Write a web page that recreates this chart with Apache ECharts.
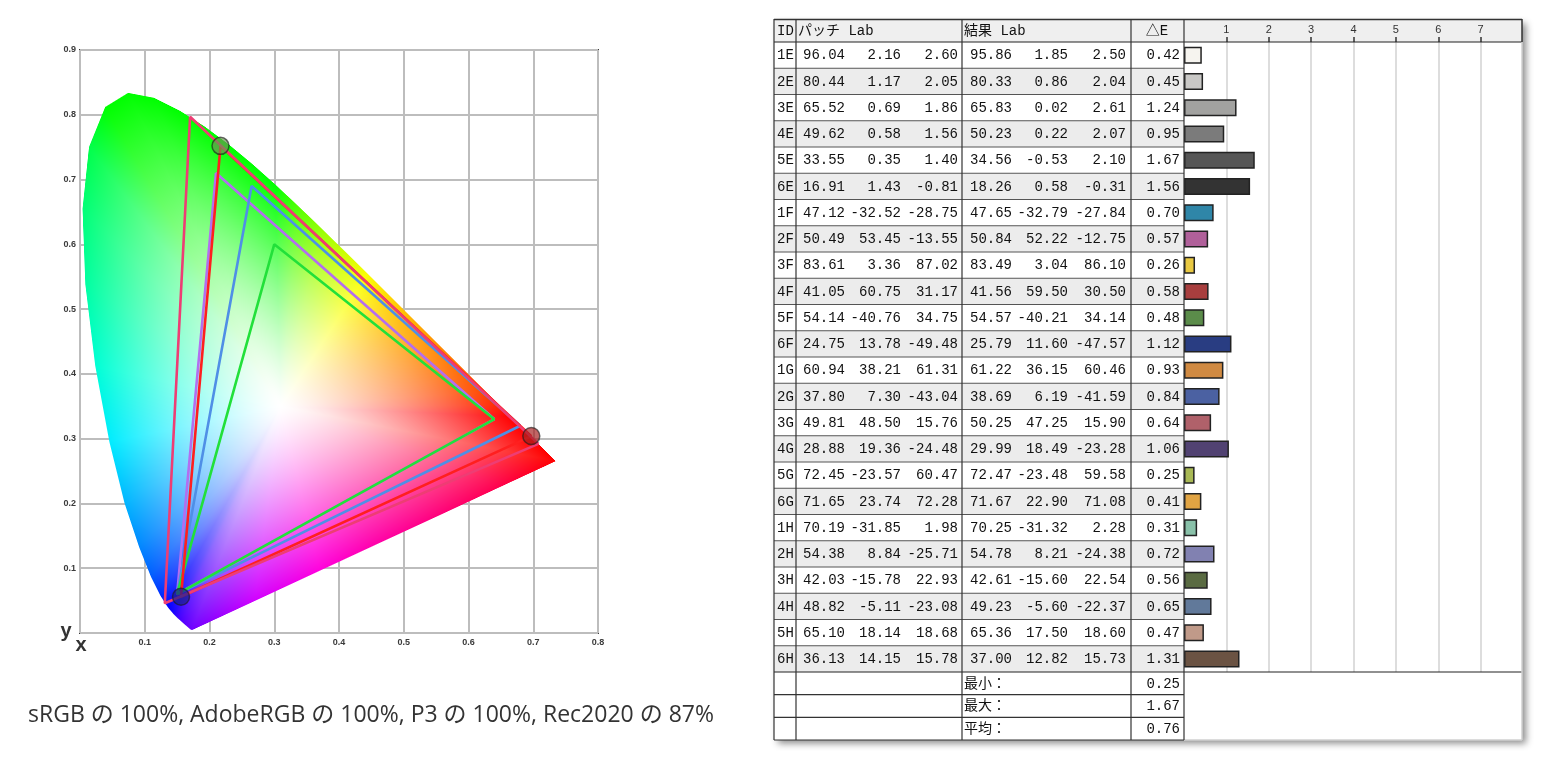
<!DOCTYPE html>
<html><head><meta charset="utf-8">
<script src="https://cdn.jsdelivr.net/npm/echarts@6/dist/echarts.min.js"></script>
<style>html,body{margin:0;padding:0;background:#fff}#c{width:1553px;height:761px}</style>
</head><body><div id="c"></div>
<script>
// ---------- CIE chart data ----------
const cieXTicks = [0.1,0.2,0.3,0.4,0.5,0.6,0.7,0.8];
const cieYTicks = [0.1,0.2,0.3,0.4,0.5,0.6,0.7,0.8,0.9];
// CIE 1931 spectral locus 380..700nm (5nm) followed by points on the line of purples
const locus = [
[0.1741,0.0050],[0.1740,0.0050],[0.1738,0.0049],[0.1736,0.0049],[0.1733,0.0048],[0.1730,0.0048],
[0.1726,0.0048],[0.1721,0.0048],[0.1714,0.0051],[0.1703,0.0058],[0.1689,0.0069],[0.1669,0.0086],
[0.1644,0.0109],[0.1611,0.0138],[0.1566,0.0177],[0.1510,0.0227],[0.1440,0.0297],[0.1355,0.0399],
[0.1241,0.0578],[0.1096,0.0868],[0.0913,0.1327],[0.0687,0.2007],[0.0454,0.2950],[0.0235,0.4127],
[0.0082,0.5384],[0.0039,0.6548],[0.0139,0.7502],[0.0389,0.8120],[0.0743,0.8338],[0.1142,0.8262],
[0.1547,0.8059],[0.1929,0.7816],[0.2296,0.7543],[0.2658,0.7243],[0.3016,0.6923],[0.3373,0.6589],
[0.3731,0.6245],[0.4087,0.5896],[0.4441,0.5547],[0.4788,0.5202],[0.5125,0.4866],[0.5448,0.4544],
[0.5752,0.4242],[0.6029,0.3965],[0.6270,0.3725],[0.6482,0.3514],[0.6658,0.3340],[0.6801,0.3197],
[0.6915,0.3083],[0.7006,0.2993],[0.7079,0.2920],[0.7140,0.2859],[0.7190,0.2809],[0.7230,0.2770],
[0.7260,0.2740],[0.7283,0.2717],[0.7300,0.2700],[0.7311,0.2689],[0.7320,0.2680],[0.7327,0.2673],
[0.7334,0.2666],[0.7340,0.2660],[0.7344,0.2656],[0.7346,0.2654],[0.7347,0.2653],
[0.6500,0.2260],[0.5600,0.1840],[0.4600,0.1378],[0.3700,0.0960],[0.2700,0.0495]
];
const whitePoint = [0.31, 0.35];
const gamutSRGB   = [[0.64,0.33],[0.30,0.60],[0.15,0.06]];
const gamutP3     = [[0.68,0.32],[0.265,0.69],[0.15,0.06]];
const gamutAdobe  = [[0.64,0.33],[0.21,0.71],[0.15,0.06]];
const gamutRec2020= [[0.708,0.292],[0.170,0.797],[0.131,0.046]];
const gamutPanel  = [[0.697,0.304],[0.217,0.752],[0.156,0.056]];
const captionText = 'sRGB の 100%, AdobeRGB の 100%, P3 の 100%, Rec2020 の 87%';

// ---------- Table data ----------
const patchIds = ['1E','2E','3E','4E','5E','6E','1F','2F','3F','4F','5F','6F','1G','2G','3G','4G','5G','6G','1H','2H','3H','4H','5H','6H'];
const patchL = [96.04,80.44,65.52,49.62,33.55,16.91,47.12,50.49,83.61,41.05,54.14,24.75,60.94,37.80,49.81,28.88,72.45,71.65,70.19,54.38,42.03,48.82,65.10,36.13];
const patchA = [2.16,1.17,0.69,0.58,0.35,1.43,-32.52,53.45,3.36,60.75,-40.76,13.78,38.21,7.30,48.50,19.36,-23.57,23.74,-31.85,8.84,-15.78,-5.11,18.14,14.15];
const patchB = [2.60,2.05,1.86,1.56,1.40,-0.81,-28.75,-13.55,87.02,31.17,34.75,-49.48,61.31,-43.04,15.76,-24.48,60.47,72.28,1.98,-25.71,22.93,-23.08,18.68,15.78];
const resultL = [95.86,80.33,65.83,50.23,34.56,18.26,47.65,50.84,83.49,41.56,54.57,25.79,61.22,38.69,50.25,29.99,72.47,71.67,70.25,54.78,42.61,49.23,65.36,37.00];
const resultA = [1.85,0.86,0.02,0.22,-0.53,0.58,-32.79,52.22,3.04,59.50,-40.21,11.60,36.15,6.19,47.25,18.49,-23.48,22.90,-31.32,8.21,-15.60,-5.60,17.50,12.82];
const resultB = [2.50,2.04,2.61,2.07,2.10,-0.31,-27.84,-12.75,86.10,30.50,34.14,-47.57,60.46,-41.59,15.90,-23.28,59.58,71.08,2.28,-24.38,22.54,-22.37,18.60,15.73];
const deltaE = [0.42,0.45,1.24,0.95,1.67,1.56,0.70,0.57,0.26,0.58,0.48,1.12,0.93,0.84,0.64,1.06,0.25,0.41,0.31,0.72,0.56,0.65,0.47,1.31];
const patchColors = ['#f6f4ef','#c9c8c6','#a2a2a0','#7b7b7b','#565656','#333333','#2f86a8','#b0609a','#e9c942','#a83e3e','#5b8c4a','#293d82','#d08a42','#4b61a2','#b0616a','#514272','#a9b955','#e1a443','#89c1a9','#8181b1','#5a6b42','#61799a','#c09a89','#6b5343'];
const summaryLabels = ['最小：','最大：','平均：'];
const summaryValues = [0.25, 1.67, 0.76];
const deltaTicks = [1,2,3,4,5,6,7];
const headerTexts = ['ID','パッチ Lab','結果 Lab','△E'];

// ---------- helpers ----------
function xyToRgbArr(x, y){
  const X = x / y, Y = 1, Z = (1 - x - y) / y;
  let r = 3.2406*X - 1.5372*Y - 0.4986*Z;
  let g = -0.9689*X + 1.8758*Y + 0.0415*Z;
  let b = 0.0557*X - 0.2040*Y + 1.0570*Z;
  r = Math.max(0, r); g = Math.max(0, g); b = Math.max(0, b);
  const m = Math.max(r, g, b);
  const gam = v => { v = v / m; v = v <= 0.0031308 ? 12.92*v : 1.055*Math.pow(v, 1/2.4) - 0.055; return Math.min(1, v) * 255; };
  return [gam(r), gam(g), gam(b)];
}
const closed = t => t.concat([t[0]]);

// Raster of the chromaticity area, built in pixel space from axis coordinates
let cieCache = null;
function buildCieImage(api){
  const p0 = api.coord([0, 0.9]), p1 = api.coord([0.8, 0]);
  const W = Math.round(p1[0] - p0[0]), H = Math.round(p1[1] - p0[1]);
  const key = W + 'x' + H + ':' + p0[0] + ',' + p0[1];
  if (cieCache && cieCache.key === key) return cieCache;
  const cv = document.createElement('canvas'); cv.width = W; cv.height = H;
  const ctx = cv.getContext('2d');
  const img = ctx.createImageData(W, H);
  const pts = locus.map(p => { const c = api.coord(p); return [c[0] - p0[0], c[1] - p0[1]]; });
  const cols = locus.map(p => xyToRgbArr(p[0], p[1]));
  const wc = api.coord(whitePoint); const wx = wc[0] - p0[0], wy = wc[1] - p0[1];
  const n = pts.length;
  const segs = [];
  for (let i = 0; i < n; i++) {
    const a = pts[i], b = pts[(i + 1) % n];
    segs.push({ax: a[0] - wx, ay: a[1] - wy, ex: b[0] - a[0], ey: b[1] - a[1], ca: cols[i], cb: cols[(i + 1) % n]});
  }
  const d = img.data;
  for (let py = 0; py < H; py++) {
    for (let px = 0; px < W; px++) {
      const dx = px + 0.5 - wx, dy = py + 0.5 - wy;
      const len = Math.sqrt(dx*dx + dy*dy);
      const k = (py*W + px)*4;
      if (len < 1e-6) { d[k]=d[k+1]=d[k+2]=255; d[k+3]=255; continue; }
      let hit = null;
      for (let s = 0; s < segs.length; s++) {
        const g = segs[s];
        const den = dx * g.ey - dy * g.ex;
        if (Math.abs(den) < 1e-12) continue;
        const sParam = (g.ax * g.ey - g.ay * g.ex) / den;
        if (sParam <= 0) continue;
        const u = (g.ax * dy - g.ay * dx) / den;
        if (u < -1e-9 || u > 1 + 1e-9) continue;
        hit = {s: sParam, u: u, g: g}; break;
      }
      if (!hit) continue;
      const t = 1 / hit.s;
      const boundLen = len * hit.s;
      let alpha = Math.max(0, Math.min(1, boundLen - len + 0.5));
      if (alpha <= 0) continue;
      const u = Math.max(0, Math.min(1, hit.u));
      const ca = hit.g.ca, cb = hit.g.cb;
      const f = Math.pow(Math.min(1, t), 1.3);
      for (let c = 0; c < 3; c++) {
        const bc = ca[c] + (cb[c] - ca[c]) * u;
        d[k+c] = Math.round(255 - (255 - bc) * f);
      }
      d[k+3] = Math.round(255 * alpha);
    }
  }
  ctx.putImageData(img, 0, 0);
  cieCache = {key: key, canvas: cv, x: p0[0], y: p0[1], w: W, h: H};
  return cieCache;
}

// ---------- Table graphic ----------
const TL = 774, TR = 1522, TT = 19, HB = 42, rowH = 26.25, nRows = patchIds.length;
const RB = HB + rowH * nRows; // 672
const sumH = 22.67, TB = RB + sumH * 3;
const colX = [774, 796, 962, 1131, 1184];
const valRight = [845, 901, 958, 1012, 1068, 1126];
const deRight = 1180;
const font = '14px "Liberation Mono","Noto Sans CJK JP",monospace';
const els = [];
function txt(t, x, y, align, extra){
  els.push(Object.assign({type:'text', z: 20, x: x, y: y,
    style:{text: t, font: font, fill:'#111', align: align, textAlign: align, verticalAlign:'middle', textVerticalAlign:'middle'}}, extra||{}));
}
function ln(x1,y1,x2,y2,c,w){
  els.push({type:'line', z: 15, shape:{x1:x1,y1:y1,x2:x2,y2:y2}, style:{stroke:c, lineWidth:w||1}});
}
els.push({type:'rect', z:-20, shape:{x:TL,y:TT,width:TR-TL,height:TB-TT}, style:{fill:'#fff', shadowBlur:7, shadowColor:'rgba(0,0,0,0.45)', shadowOffsetX:4, shadowOffsetY:4}});
els.push({type:'rect', z:-15, shape:{x:TL,y:TT,width:TR-TL,height:HB-TT}, style:{fill:'#efefef'}});
for (let i = 0; i < nRows; i++) {
  if (i % 2 === 1) els.push({type:'rect', z:-15, shape:{x:TL,y:HB+i*rowH,width:colX[4]-TL,height:rowH}, style:{fill:'#ececec'}});
}
ln(TL, TT+0.5, TR, TT+0.5, '#333', 1.5);
ln(TL, HB, TR, HB, '#222', 1.2);
for (let i = 1; i < nRows; i++) ln(TL, HB+i*rowH, colX[4], HB+i*rowH, '#555', 1);
ln(TL, RB, TR, RB, '#222', 1.2);
for (let k = 1; k <= 3; k++) ln(TL, RB+k*sumH, colX[4], RB+k*sumH, '#333', 1.2);
ln(colX[4], TB, TR, TB, '#d0d0d0', 1.5);
colX.forEach(x => ln(x, TT, x, TB, '#333', 1.2));
ln(TR, TT, TR, HB, '#333', 1.5);
ln(TR, HB, TR, TB, '#d0d0d0', 1.5);
const hy = (TT + HB) / 2 + 0.5;
txt(headerTexts[0], 777, hy, 'left');
txt(headerTexts[1], 798, hy, 'left');
txt(headerTexts[2], 964, hy, 'left');
txt(headerTexts[3], 1157, hy, 'center');
const cols = [patchL, patchA, patchB, resultL, resultA, resultB];
for (let i = 0; i < nRows; i++) {
  const y = HB + (i + 0.5) * rowH + 0.5;
  txt(patchIds[i], 777, y, 'left');
  cols.forEach((arr, c) => txt(arr[i].toFixed(2), valRight[c], y, 'right'));
  txt(deltaE[i].toFixed(2), deRight, y, 'right');
}
for (let k = 0; k < 3; k++) {
  const y = RB + (k + 0.5) * sumH + 0.5;
  txt(summaryLabels[k], 964, y, 'left');
  txt(summaryValues[k].toFixed(2), deRight, y, 'right');
}
els.push({type:'text', z:20, x:66, y:631, style:{text:'y', font:'bold 20px "Liberation Sans",sans-serif', fill:'#333', align:'center', textAlign:'center', verticalAlign:'middle', textVerticalAlign:'middle'}});
els.push({type:'text', z:20, x:81, y:645, style:{text:'x', font:'bold 20px "Liberation Sans",sans-serif', fill:'#333', align:'center', textAlign:'center', verticalAlign:'middle', textVerticalAlign:'middle'}});
els.push({type:'text', z:20, x:28, y:715, style:{text:captionText, font:'23px "Open Sans","Noto Sans CJK JP",sans-serif', fill:'#333', align:'left', textAlign:'left', verticalAlign:'middle', textVerticalAlign:'middle'}});

// ---------- chart ----------
const chart = echarts.init(document.getElementById('c'), null, {renderer:'canvas'});
const lineSeries = (data, color, z) => ({type:'line', xAxisIndex:0, yAxisIndex:0, data: closed(data), symbol:'none', silent:true, z: z,
  lineStyle:{color: color, width: 2.6}});
const markerColors = ['rgba(165,30,30,0.85)','rgba(105,145,80,0.85)','rgba(30,30,140,0.9)'];

chart.setOption({
  animation: false,
  graphic: { elements: els },
  grid: [
    {left:80, top:50, width:518, height:583, show:true, borderColor:'#3a3a3a', borderWidth:2, backgroundColor:'#fff'},
    {left:1184, top:42, width:339, height:630}
  ],
  xAxis: [
    {type:'value', gridIndex:0, min:0, max:0.8, interval:0.1,
      axisLine:{show:false}, axisTick:{show:false},
      axisLabel:{customValues: cieXTicks, formatter: v => v.toFixed(1), fontSize:9, fontWeight:'bold', color:'#3a3a3a', fontFamily:'"Liberation Sans",Arial', margin:5},
      splitLine:{show:true, lineStyle:{color:'#bdbdbd', width:2}}},
    {type:'value', gridIndex:1, min:0, max:8, interval:1, position:'top',
      axisLine:{show:false},
      axisTick:{show:true, customValues: deltaTicks, length:5, lineStyle:{color:'#333', width:1.5}},
      axisLabel:{customValues: deltaTicks, fontSize:11, color:'#333', fontFamily:'"Liberation Sans",Arial', margin:7},
      splitLine:{show:true, lineStyle:{color:'#d2d2d2', width:1.5}}}
  ],
  yAxis: [
    {type:'value', gridIndex:0, min:0, max:0.9, interval:0.1,
      axisLine:{show:false}, axisTick:{show:false},
      axisLabel:{customValues: cieYTicks, formatter: v => v.toFixed(1), fontSize:9, fontWeight:'bold', color:'#3a3a3a', fontFamily:'"Liberation Sans",Arial', margin:4},
      splitLine:{show:true, lineStyle:{color:'#bdbdbd', width:2}}},
    {type:'category', gridIndex:1, data: patchIds, inverse:true, show:false}
  ],
  series: [
    {type:'custom', xAxisIndex:0, yAxisIndex:0, silent:true, z:2, data:[[whitePoint[0], whitePoint[1]]],
      renderItem: function(params, api){
        const r = buildCieImage(api);
        return {type:'image', style:{image: r.canvas, x: r.x, y: r.y, width: r.w, height: r.h}};
      }},
    lineSeries(gamutAdobe, '#b36ef0', 3),
    lineSeries(gamutP3, '#4f8fe6', 4),
    lineSeries(gamutSRGB, '#22e03a', 5),
    lineSeries(gamutPanel, '#ff1f1f', 6),
    lineSeries(gamutRec2020, '#ee3d74', 7),
    {type:'scatter', xAxisIndex:0, yAxisIndex:0, z:8, silent:true, symbolSize:17,
      data: gamutPanel.map((p, i) => ({value:p, itemStyle:{color: markerColors[i]}})),
      itemStyle:{borderColor:'rgba(30,30,30,0.8)', borderWidth:1.5}},
    {type:'bar', xAxisIndex:1, yAxisIndex:1, z:5, silent:true, barWidth:17,
      data: deltaE.map((v, i) => ({value:v, itemStyle:{color: patchColors[i]}})),
      itemStyle:{borderColor:'#222', borderWidth:1.5}}
  ]
});
</script></body></html>
